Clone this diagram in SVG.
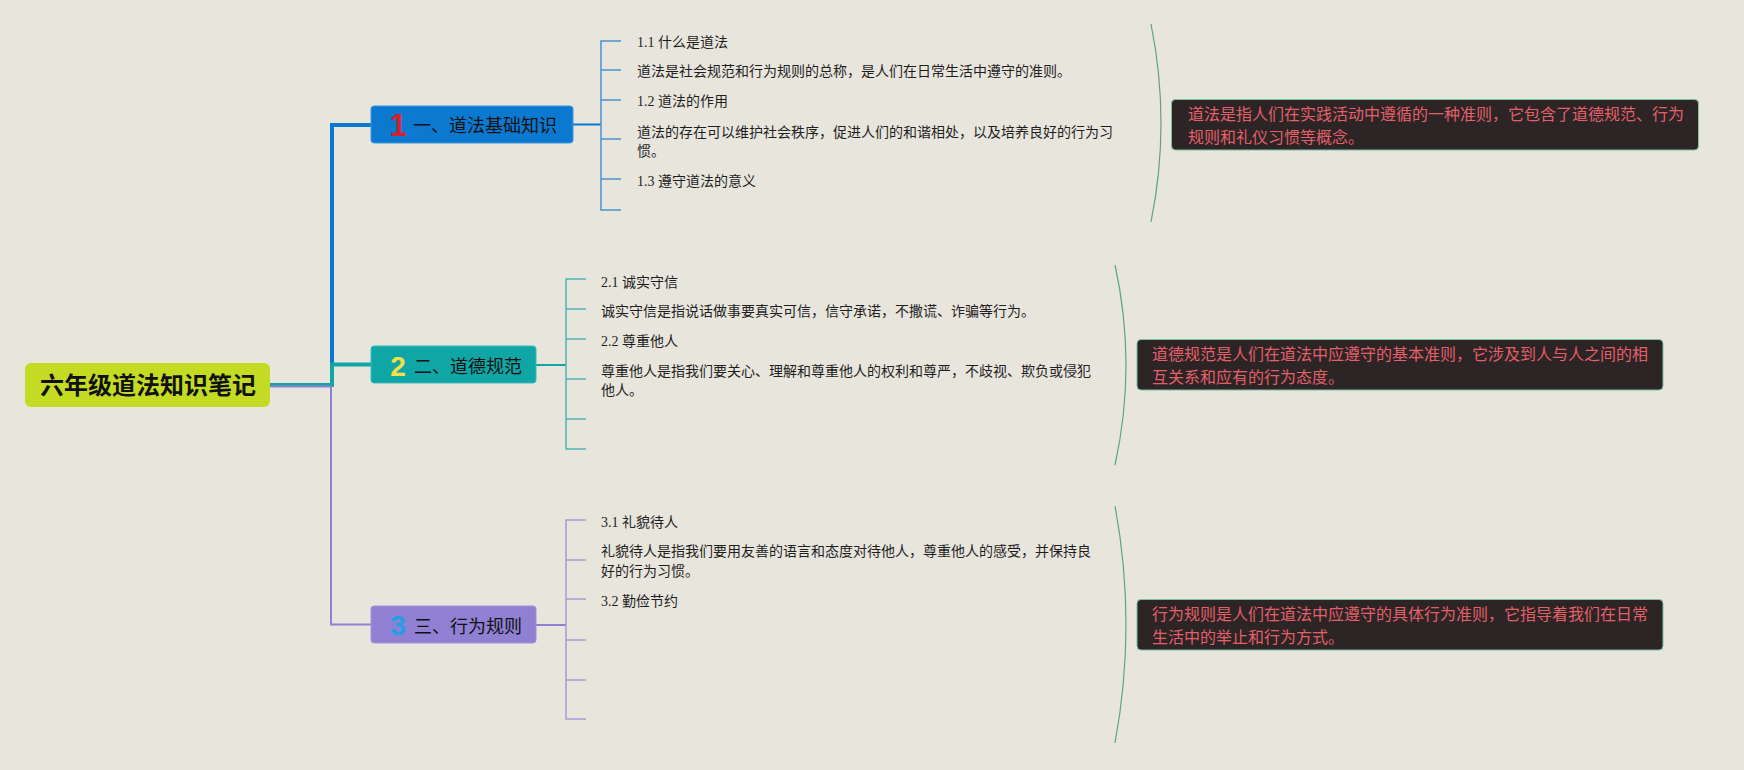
<svg xmlns="http://www.w3.org/2000/svg" width="1744" height="770" viewBox="0 0 1744 770">
<defs>
<style>
.bg{fill:#e8e5dd}
.root{fill:#c3dc23}
.rootT{font-family:"Noto Sans CJK SC","Noto Sans",sans-serif;font-size:24px;font-weight:bold;fill:#111}
.nodeT{font-family:"Noto Sans CJK SC","Noto Sans",sans-serif;font-size:18px;fill:#111}
.num{font-family:"Liberation Sans","Noto Sans",sans-serif;font-weight:bold}
.sub{font-family:"Liberation Serif","Noto Sans CJK SC",serif;font-size:14px;fill:#1e1e1e}
.box{fill:#2d2425;stroke:#7cc0a4;stroke-width:1}
.boxT{font-family:"Noto Sans CJK SC","Noto Sans",sans-serif;font-size:16px;fill:#e2606a}
.arc{fill:none;stroke:#5aa48c;stroke-width:1.2}
.ln{fill:none}
</style>
</defs>
<rect class="bg" x="0" y="0" width="1744" height="770"/>

<g id="connectors">
  <path class="ln" d="M270,385 H332 V125 H371" stroke="#0b79d0" stroke-width="4"/>
  <path class="ln" d="M270,385 H332 V364.5 H371" stroke="#10a6a6" stroke-width="4"/>
  <path class="ln" d="M270,386.5 H331 V624.5 H371" stroke="#9080d4" stroke-width="2"/>
  <path class="ln" d="M573,124.5 H601" stroke="#0b79d0" stroke-width="2"/>
  <path class="ln" d="M621,41 H601 V210 H621 M601,70 H621 M601,100 H621 M601,139 H621 M601,179 H621" stroke="#4a94d0" stroke-width="1.5"/>
  <path class="ln" d="M536,365 H566" stroke="#10a6a6" stroke-width="2"/>
  <path class="ln" d="M586,279 H566 V449 H586 M566,309 H586 M566,339 H586 M566,379 H586 M566,419 H586" stroke="#4fb3b3" stroke-width="1.5"/>
  <path class="ln" d="M536,625 H566" stroke="#9080d4" stroke-width="2"/>
  <path class="ln" d="M586,520 H566 V719 H586 M566,560 H586 M566,599 H586 M566,640 H586 M566,680 H586" stroke="#a89ad8" stroke-width="1.5"/>
  <path class="arc" d="M1151,24 Q1171,123 1151,222"/>
  <path class="arc" d="M1115,265 Q1137,365 1115,465"/>
  <path class="arc" d="M1115,506 Q1137,624 1115,743"/>
</g>

<g id="root">
  <rect class="root" x="25" y="363" width="245" height="44" rx="6"/>
  <text class="rootT" x="148" y="394" text-anchor="middle">六年级道法知识笔记</text>
</g>

<g id="node1">
  <rect x="371" y="106" width="202" height="37" rx="3" fill="#0b79d0" stroke="#3a98de" stroke-width="1"/>
  <text class="num" x="398" y="136" font-size="31" fill="#d81e2c" text-anchor="middle">1</text>
  <text class="nodeT" x="413" y="132">一、道法基础知识</text>
</g>
<g id="node2">
  <rect x="371" y="346" width="165" height="37" rx="3" fill="#10a6a6" stroke="#3dbaba" stroke-width="1"/>
  <text class="num" x="398" y="376" font-size="28" fill="#f2e04a" text-anchor="middle">2</text>
  <text class="nodeT" x="414" y="373">二、道德规范</text>
</g>
<g id="node3">
  <rect x="371" y="606" width="165" height="37" rx="3" fill="#9080d4" stroke="#a193dc" stroke-width="1"/>
  <text class="num" x="398" y="635" font-size="28" fill="#21a0e6" text-anchor="middle">3</text>
  <text class="nodeT" x="414" y="633">三、行为规则</text>
</g>

<g id="node1-subtopics">
  <text class="sub" x="637" y="47">1.1 什么是道法</text>
  <text class="sub" x="637" y="76">道法是社会规范和行为规则的总称，是人们在日常生活中遵守的准则。</text>
  <text class="sub" x="637" y="106">1.2 道法的作用</text>
  <text class="sub" x="637" y="137">道法的存在可以维护社会秩序，促进人们的和谐相处，以及培养良好的行为习</text>
  <text class="sub" x="637" y="156">惯。</text>
  <text class="sub" x="637" y="186">1.3 遵守道法的意义</text>
</g>
<g id="node2-subtopics">
  <text class="sub" x="601" y="287">2.1 诚实守信</text>
  <text class="sub" x="601" y="316">诚实守信是指说话做事要真实可信，信守承诺，不撒谎、诈骗等行为。</text>
  <text class="sub" x="601" y="346">2.2 尊重他人</text>
  <text class="sub" x="601" y="376">尊重他人是指我们要关心、理解和尊重他人的权利和尊严，不歧视、欺负或侵犯</text>
  <text class="sub" x="601" y="395">他人。</text>
</g>
<g id="node3-subtopics">
  <text class="sub" x="601" y="527">3.1 礼貌待人</text>
  <text class="sub" x="601" y="556">礼貌待人是指我们要用友善的语言和态度对待他人，尊重他人的感受，并保持良</text>
  <text class="sub" x="601" y="576">好的行为习惯。</text>
  <text class="sub" x="601" y="606">3.2 勤俭节约</text>
</g>

<g id="summary1">
  <rect class="box" x="1171.5" y="99.5" width="527" height="50.5" rx="4"/>
  <text class="boxT" x="1188" y="120">道法是指人们在实践活动中遵循的一种准则，它包含了道德规范、行为</text>
  <text class="boxT" x="1188" y="143">规则和礼仪习惯等概念。</text>
</g>
<g id="summary2">
  <rect class="box" x="1137" y="339.5" width="526" height="50.5" rx="4"/>
  <text class="boxT" x="1152" y="360">道德规范是人们在道法中应遵守的基本准则，它涉及到人与人之间的相</text>
  <text class="boxT" x="1152" y="383">互关系和应有的行为态度。</text>
</g>
<g id="summary3">
  <rect class="box" x="1137" y="599.5" width="526" height="50.5" rx="4"/>
  <text class="boxT" x="1152" y="620">行为规则是人们在道法中应遵守的具体行为准则，它指导着我们在日常</text>
  <text class="boxT" x="1152" y="643">生活中的举止和行为方式。</text>
</g>
</svg>
